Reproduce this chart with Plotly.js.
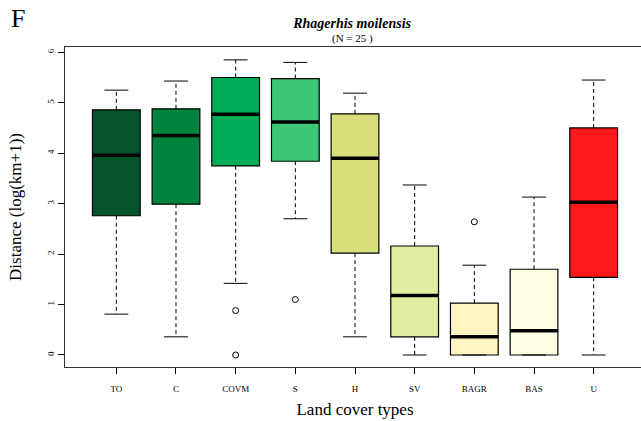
<!DOCTYPE html>
<html>
<head>
<meta charset="utf-8">
<script src="https://cdn.plot.ly/plotly-3.0.1.min.js"></script>
<style>html,body{margin:0;padding:0;background:#fff;overflow:hidden}#plot{width:646px;height:421px}</style>
</head>
<body>
<div id="plot"></div>
<script>
// Data
const categories = ["TO", "C", "COVM", "S", "H", "SV", "BAGR", "BAS", "U"];
const lowerWhisker = [0.81, 0.36, 1.42, 2.70, 0.36, 0.00, 0.00, 0.00, 0.00];
const q1Values     = [2.76, 2.99, 3.75, 3.84, 2.02, 0.36, 0.00, 0.00, 1.54];
const medianValues = [3.96, 4.35, 4.77, 4.62, 3.90, 1.18, 0.36, 0.48, 3.03];
const q3Values     = [4.86, 4.88, 5.50, 5.48, 4.78, 2.16, 1.03, 1.70, 4.50];
const upperWhisker = [5.25, 5.43, 5.85, 5.80, 5.19, 3.37, 1.78, 3.13, 5.45];
const outlierCats   = ["COVM", "COVM", "S", "BAGR"];
const outlierValues = [0.88, 0.00, 1.10, 2.64];
const boxColors = ["#03532B", "#00843D", "#00AD56", "#3CC676", "#D7DE7A", "#E0EC9E", "#FFF5C2", "#FFFDE4", "#FF1A1A"];

const boxWidth = 0.8;
const capHalf = 0.2;
const pos = categories.map((c, i) => i + 1);

const traces = [];
// Dashed whiskers
const wx = [], wy = [];
categories.forEach((c, i) => {
  wx.push(pos[i], pos[i], null, pos[i], pos[i], null);
  wy.push(q3Values[i], upperWhisker[i], null, q1Values[i], lowerWhisker[i], null);
});
traces.push({type: "scatter", mode: "lines", x: wx, y: wy, line: {color: "#000", width: 1, dash: "4px,3px"}, hoverinfo: "skip", showlegend: false});
// Whisker caps
const cx = [], cy = [];
categories.forEach((c, i) => {
  cx.push(pos[i] - capHalf, pos[i] + capHalf, null, pos[i] - capHalf, pos[i] + capHalf, null);
  cy.push(upperWhisker[i], upperWhisker[i], null, lowerWhisker[i], lowerWhisker[i], null);
});
traces.push({type: "scatter", mode: "lines", x: cx, y: cy, line: {color: "#000", width: 1}, hoverinfo: "skip", showlegend: false});
// Boxes
categories.forEach((c, i) => {
  traces.push({
    type: "box", x: [pos[i]],
    q1: [q1Values[i]], median: [medianValues[i]], q3: [q3Values[i]],
    lowerfence: [q1Values[i]], upperfence: [q3Values[i]],
    width: boxWidth, whiskerwidth: 0,
    fillcolor: boxColors[i], line: {color: "#000", width: 1.2},
    boxpoints: false, showlegend: false, name: c
  });
});
// Median bars
const mx = [], my = [];
categories.forEach((c, i) => {
  mx.push(pos[i] - boxWidth / 2, pos[i] + boxWidth / 2, null);
  my.push(medianValues[i], medianValues[i], null);
});
traces.push({type: "scatter", mode: "lines", x: mx, y: my, line: {color: "#000", width: 3.5}, hoverinfo: "skip", showlegend: false});
// Outliers
traces.push({
  type: "scatter", mode: "markers",
  x: outlierCats.map(c => categories.indexOf(c) + 1), y: outlierValues,
  marker: {symbol: "circle-open", size: 6, color: "#000", line: {width: 1, color: "#000"}},
  showlegend: false
});

const serif = "Liberation Serif, Times New Roman, serif";
const layout = {
  width: 646, height: 421,
  margin: {l: 65, r: 1, t: 47, b: 54},
  paper_bgcolor: "#fff", plot_bgcolor: "#fff",
  font: {family: serif, color: "#000"},
  showlegend: false,
  title: {text: "<b><i>Rhagerhis moilensis</i></b>", font: {size: 14, family: serif, color: "#000"}, x: 0.545, xanchor: "center", xref: "container", y: 0.945, yanchor: "middle"},
  xaxis: {
    range: [0.14, 9.86], tickmode: "array", tickvals: pos, ticktext: categories,
    ticks: "outside", ticklen: 6, tickcolor: "#000", tickfont: {size: 9, family: serif, color: "#000"},
    ticklabelstandoff: 7,
    showgrid: false, zeroline: false, showline: true, mirror: true, linecolor: "#333", linewidth: 1,
    title: {text: "Land cover types", font: {size: 17, family: serif, color: "#000"}, standoff: 10}
  },
  yaxis: {
    range: [-0.238, 6.105], tickvals: [0, 1, 2, 3, 4, 5, 6],
    ticks: "outside", ticklen: 6, tickcolor: "#000", tickangle: -90, tickfont: {size: 9, family: serif, color: "#000"},
    showgrid: false, zeroline: false, showline: true, mirror: true, linecolor: "#333", linewidth: 1,
    title: {text: "Distance (log(km+1))", font: {size: 17, family: serif, color: "#000"}}
  },
  annotations: [
    {text: "(N = 25 )", xref: "paper", yref: "paper", x: 0.495, y: 1, xanchor: "center", yanchor: "bottom", yshift: 0, showarrow: false, font: {size: 11, family: serif, color: "#000"}},
    {text: "F", xref: "paper", yref: "paper", x: -0.096, y: 1.09, xanchor: "left", yanchor: "middle", showarrow: false, font: {size: 26, family: serif, color: "#000"}}
  ]
};
Plotly.newPlot("plot", traces, layout, {displayModeBar: false, staticPlot: true});
</script>
</body>
</html>
